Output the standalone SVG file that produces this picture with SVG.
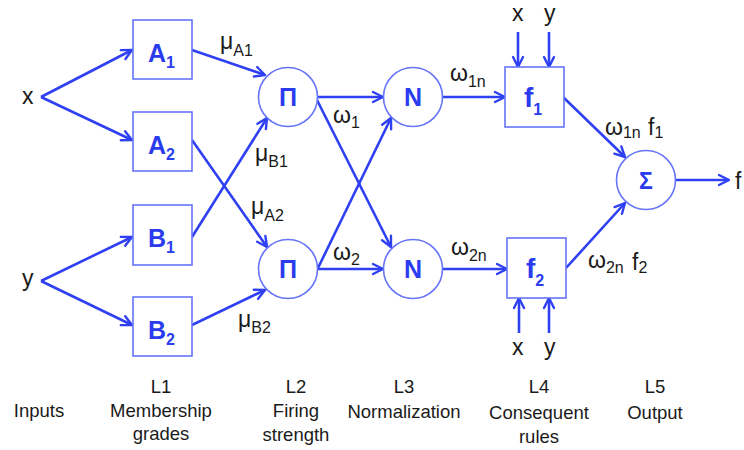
<svg xmlns="http://www.w3.org/2000/svg" width="744" height="450" viewBox="0 0 744 450">
<style>
.box{fill:#fff;stroke:#6675f8;stroke-width:1.6}
.nl{font-family:"Liberation Sans",Arial,sans-serif;font-weight:bold;fill:#2a3cee;font-size:25px}
.ns{font-size:16px}
.c path,.c line{stroke:#2f40f2;stroke-width:2.6;fill:none}
.t{font-family:"Liberation Sans",Arial,sans-serif;fill:#1a1a1a;font-size:23px}
.s{font-size:16px}
.b{font-family:"Liberation Sans",Arial,sans-serif;fill:#1a1a1a;font-size:18.5px;text-anchor:middle}
</style>
<defs>
<marker id="ah" markerUnits="userSpaceOnUse" markerWidth="14" markerHeight="14" viewBox="0 0 14 14" refX="12" refY="7" orient="auto">
<path d="M2,2 L12,7 L2,12" fill="none" stroke="#2f40f2" stroke-width="2.4" stroke-linecap="round" stroke-linejoin="round"/>
</marker>
</defs>
<rect width="744" height="450" fill="#fff"/>
<g class="c" id="connectors">
<line x1="41" y1="97" x2="132" y2="50" marker-end="url(#ah)"/>
<line x1="41" y1="97" x2="132" y2="140" marker-end="url(#ah)"/>
<line x1="41" y1="281" x2="132" y2="237" marker-end="url(#ah)"/>
<line x1="41" y1="281" x2="132" y2="325" marker-end="url(#ah)"/>
<line x1="192" y1="50" x2="265" y2="75" marker-end="url(#ah)"/>
<line x1="192" y1="237" x2="267" y2="118" marker-end="url(#ah)"/>
<line x1="192" y1="140" x2="267" y2="247" marker-end="url(#ah)"/>
<line x1="192" y1="325" x2="265" y2="290" marker-end="url(#ah)"/>
<line x1="317" y1="97" x2="383" y2="97" marker-end="url(#ah)"/>
<line x1="317" y1="100" x2="391" y2="247" marker-end="url(#ah)"/>
<line x1="318" y1="268" x2="391" y2="118" marker-end="url(#ah)"/>
<line x1="317" y1="269" x2="383" y2="269" marker-end="url(#ah)"/>
<line x1="442" y1="97" x2="505" y2="97" marker-end="url(#ah)"/>
<line x1="442" y1="269" x2="507" y2="269" marker-end="url(#ah)"/>
<line x1="518" y1="32" x2="518" y2="67" marker-end="url(#ah)"/>
<line x1="549" y1="32" x2="549" y2="67" marker-end="url(#ah)"/>
<line x1="519" y1="333" x2="519" y2="298" marker-end="url(#ah)"/>
<line x1="549" y1="333" x2="549" y2="298" marker-end="url(#ah)"/>
<line x1="563" y1="97" x2="625" y2="157" marker-end="url(#ah)"/>
<line x1="566" y1="268" x2="625" y2="203" marker-end="url(#ah)"/>
<line x1="676" y1="180" x2="729" y2="180" marker-end="url(#ah)"/>
</g>
<g id="A1"><rect class="box" x="133" y="20" width="59" height="59"/><text class="nl" x="148" y="62">A<tspan class="ns" y="68">1</tspan></text></g>
<g id="A2"><rect class="box" x="133" y="112" width="59" height="59"/><text class="nl" x="148" y="154">A<tspan class="ns" y="160">2</tspan></text></g>
<g id="B1"><rect class="box" x="133" y="205" width="59" height="60"/><text class="nl" x="148" y="247">B<tspan class="ns" y="253">1</tspan></text></g>
<g id="B2"><rect class="box" x="133" y="297" width="59" height="59"/><text class="nl" x="148" y="339">B<tspan class="ns" y="345">2</tspan></text></g>
<g id="P1"><circle class="box" cx="288" cy="97" r="29.5"/><text class="nl" x="288" y="106" text-anchor="middle">Π</text></g>
<g id="P2"><circle class="box" cx="288" cy="269" r="29.5"/><text class="nl" x="288" y="278" text-anchor="middle">Π</text></g>
<g id="N1"><circle class="box" cx="413" cy="97" r="29.5"/><text class="nl" x="413" y="106" text-anchor="middle">N</text></g>
<g id="N2"><circle class="box" cx="413" cy="269" r="29.5"/><text class="nl" x="413" y="278" text-anchor="middle">N</text></g>
<g id="F1"><rect class="box" x="505" y="67" width="59" height="60"/><text class="nl" x="524" y="107" style="font-size:28px">f<tspan class="ns" y="115">1</tspan></text></g>
<g id="F2"><rect class="box" x="507" y="238" width="59" height="60"/><text class="nl" x="526" y="278" style="font-size:28px">f<tspan class="ns" y="286">2</tspan></text></g>
<g id="S"><circle class="box" cx="646" cy="180" r="29.5"/><text class="nl" x="646" y="189" text-anchor="middle" style="font-size:23px">Σ</text></g>
<g id="labels">
<text class="t" x="22" y="104">x</text>
<text class="t" x="22" y="286">y</text>
<text class="t" x="220" y="49">μ<tspan class="s" y="56">A1</tspan></text>
<text class="t" x="255" y="161">μ<tspan class="s" y="167">B1</tspan></text>
<text class="t" x="251" y="214">μ<tspan class="s" y="221">A2</tspan></text>
<text class="t" x="238" y="327">μ<tspan class="s" y="333">B2</tspan></text>
<text class="t" x="333" y="123">ω<tspan class="s" y="128">1</tspan></text>
<text class="t" x="333" y="260">ω<tspan class="s" y="265">2</tspan></text>
<text class="t" x="450" y="81">ω<tspan class="s" y="87">1n</tspan></text>
<text class="t" x="451" y="255">ω<tspan class="s" y="261">2n</tspan></text>
<text class="t" x="605" y="135">ω<tspan class="s" y="138">1n</tspan><tspan x="648" y="135">f</tspan><tspan class="s" y="138">1</tspan></text>
<text class="t" x="588" y="268">ω<tspan class="s" y="273">2n</tspan><tspan x="632" y="270">f</tspan><tspan class="s" y="273">2</tspan></text>
<text class="t" x="512" y="21">x</text>
<text class="t" x="544" y="21">y</text>
<text class="t" x="512" y="355">x</text>
<text class="t" x="544" y="355">y</text>
<text class="t" x="735" y="189">f</text>
</g>
<g id="bottom">
<text class="b" x="39" y="417">Inputs</text>
<text class="b" x="161" y="393">L1</text>
<text class="b" x="161" y="417">Membership</text>
<text class="b" x="161" y="440">grades</text>
<text class="b" x="296" y="393">L2</text>
<text class="b" x="296" y="417">Firing</text>
<text class="b" x="296" y="441">strength</text>
<text class="b" x="404" y="393">L3</text>
<text class="b" x="404" y="418">Normalization</text>
<text class="b" x="539" y="393">L4</text>
<text class="b" x="539" y="419">Consequent</text>
<text class="b" x="539" y="443">rules</text>
<text class="b" x="655" y="393">L5</text>
<text class="b" x="655" y="419">Output</text>
</g>
</svg>
